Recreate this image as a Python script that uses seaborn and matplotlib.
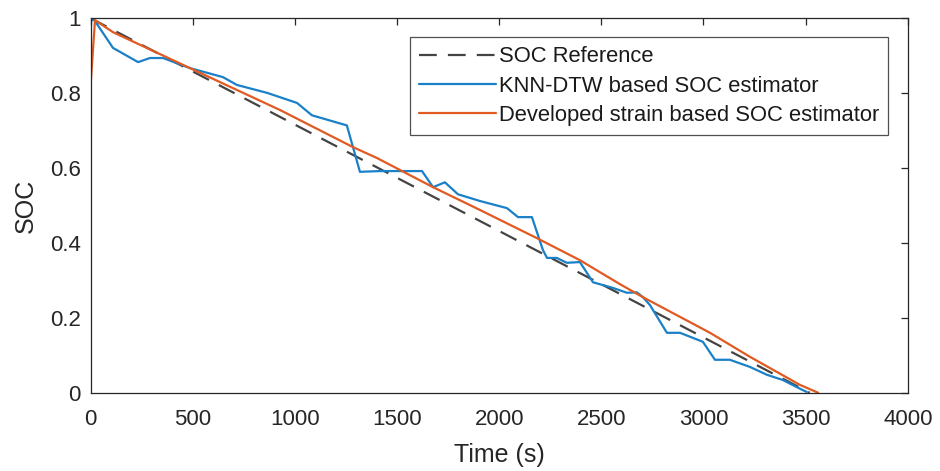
import matplotlib
matplotlib.use("Agg")
import matplotlib.pyplot as plt
import seaborn as sns
import pandas as pd

# Reference SOC (coulomb counting) over the discharge
ref_time = [0, 3520]
ref_soc = [1.0, 0.0]

# KNN-DTW based SOC estimate
knn_time = [0, 12, 109, 232, 290, 354, 486, 647, 716, 863, 1010, 1083, 1254, 1318,
            1416, 1622, 1676, 1734, 1798, 1906, 2038, 2092, 2160, 2214, 2234, 2282,
            2331, 2395, 2459, 2556, 2625, 2674, 2704, 2738, 2821, 2885, 2997, 3056,
            3129, 3227, 3310, 3388, 3486, 3506]
knn_soc = [0.99, 1.0, 0.921, 0.883, 0.894, 0.894, 0.867, 0.843, 0.822, 0.801, 0.774,
           0.741, 0.714, 0.590, 0.592, 0.592, 0.549, 0.562, 0.530, 0.512, 0.493, 0.469,
           0.469, 0.381, 0.360, 0.360, 0.347, 0.349, 0.295, 0.280, 0.267, 0.268, 0.255,
           0.234, 0.160, 0.160, 0.136, 0.088, 0.088, 0.069, 0.048, 0.034, 0.007, 0.002]

# Strain based SOC estimate
strain_time = [0, 21, 109, 486, 927, 1284, 1401, 1676, 1906, 2184, 2395, 2459, 2591,
               2704, 3032, 3227, 3472, 3561]
strain_soc = [0.827, 0.995, 0.963, 0.867, 0.755, 0.656, 0.627, 0.549, 0.488, 0.413,
              0.354, 0.333, 0.290, 0.255, 0.160, 0.096, 0.021, 0.0]

x_ticks = [0, 500, 1000, 1500, 2000, 2500, 3000, 3500, 4000]
y_ticks = [0, 0.2, 0.4, 0.6, 0.8, 1.0]
y_tick_labels = ["0", "0.2", "0.4", "0.6", "0.8", "1"]

sns.set_style("white")
plt.rcParams["font.family"] = ["Liberation Sans", "DejaVu Sans"]

axis_color = "#262626"

fig = plt.figure(figsize=(9.4, 4.71), dpi=100)
ax = fig.add_axes([0.0965, 0.1662, 0.8692, 0.7949])

df_ref = pd.DataFrame({"t": ref_time, "soc": ref_soc})
df_knn = pd.DataFrame({"t": knn_time, "soc": knn_soc})
df_str = pd.DataFrame({"t": strain_time, "soc": strain_soc})

sns.lineplot(data=df_ref, x="t", y="soc", ax=ax, color="#444444", lw=1.6,
             label="SOC Reference", sort=False, estimator=None)
ax.lines[-1].set_dashes((8.0, 5.0))
sns.lineplot(data=df_knn, x="t", y="soc", ax=ax, color="#1A80C8", lw=1.6,
             label="KNN-DTW based SOC estimator", sort=False, estimator=None)
sns.lineplot(data=df_str, x="t", y="soc", ax=ax, color="#E05A22", lw=1.6,
             label="Developed strain based SOC estimator", sort=False, estimator=None)

ax.set_xlim(0, 4000)
ax.set_ylim(0, 1)
ax.set_xticks(x_ticks)
ax.set_xticklabels([str(v) for v in x_ticks])
ax.set_yticks(y_ticks)
ax.set_yticklabels(y_tick_labels)

for side in ["left", "right", "top", "bottom"]:
    ax.spines[side].set_visible(True)
    ax.spines[side].set_color(axis_color)
    ax.spines[side].set_linewidth(0.9)

ax.tick_params(axis="both", which="both", direction="in", length=5, width=0.9,
               color=axis_color, labelcolor=axis_color, labelsize=16,
               top=True, right=True)
ax.tick_params(axis="x", pad=12)
ax.tick_params(axis="y", pad=7)

ax.set_xlabel("Time (s)", fontsize=18, color=axis_color, labelpad=9)
ax.set_ylabel("SOC", fontsize=18, color=axis_color, labelpad=9)

leg = ax.legend(loc="upper right", bbox_to_anchor=(0.976, 0.949), fontsize=15.8,
                frameon=True, fancybox=False, handlelength=3.55, handletextpad=0.12,
                borderpad=0.4, labelspacing=0.38, borderaxespad=0.0)
leg.get_frame().set_edgecolor(axis_color)
leg.get_frame().set_linewidth(0.9)
for txt in leg.get_texts():
    txt.set_color("#1a1a1a")

fig.savefig("out.png", dpi=100, facecolor="white")
